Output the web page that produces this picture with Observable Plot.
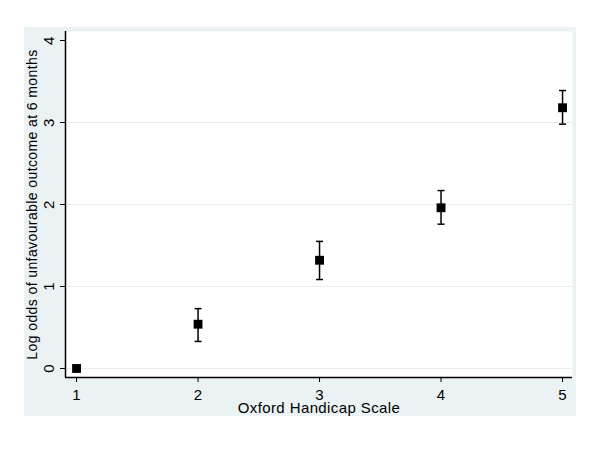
<!DOCTYPE html>
<html>
<head>
<meta charset="utf-8">
<script src="https://cdn.jsdelivr.net/npm/d3@7"></script>
<script src="https://cdn.jsdelivr.net/npm/@observablehq/plot@0.6"></script>
<style>
  html, body { margin: 0; padding: 0; background: #ffffff; }
  #wrap { position: relative; width: 600px; height: 449px; }
  #bg { position: absolute; left: 24px; top: 27px; width: 552px; height: 389px; background: #eaf2f3; }
  #chart { position: absolute; left: 0; top: 0; }
  #chart svg { background: transparent; }
</style>
</head>
<body>
<div id="wrap"><div id="bg"></div><div id="chart"></div></div>
<script>
const scale = [1, 2, 3, 4, 5];
const logOdds = [0, 0.54, 1.32, 1.96, 3.18];
const lower = [null, 0.33, 1.085, 1.76, 2.98];
const upper = [null, 0.73, 1.55, 2.17, 3.39];
const xTicks = [1, 2, 3, 4, 5];
const yTicks = [0, 1, 2, 3, 4];
const gridTicks = [0, 1, 2, 3];

const data = scale.map((s, i) => ({x: s, y: logOdds[i], lo: lower[i], hi: upper[i]}));
const errs = data.filter(d => d.lo != null);
const caps = errs.flatMap(d => [{x: d.x, y: d.lo}, {x: d.x, y: d.hi}]);

const capSymbol = {
  draw(ctx, size) { ctx.moveTo(-3.5, 0); ctx.lineTo(3.5, 0); }
};

const font = "'Liberation Sans', Arial, sans-serif";

const chart = Plot.plot({
  width: 600,
  height: 449,
  marginLeft: 65,
  marginRight: 28,
  marginTop: 31,
  marginBottom: 72,
  style: {fontFamily: font, fontSize: "15px", color: "#000", background: "transparent", letterSpacing: "0.4px"},
  x: {domain: [0.909, 5.082]},
  y: {domain: [-0.11, 4.11]},
  marks: [
    Plot.frame({fill: "white", stroke: null}),
    Plot.ruleY(gridTicks, {stroke: "#e3ecee", strokeWidth: 1.2}),
    Plot.axisX({ticks: xTicks, tickSize: 5, tickPadding: 7, tickFormat: d => d, label: null, fontSize: 15}),
    Plot.axisY({ticks: yTicks, tickSize: 5, tickPadding: 7, tickRotate: -90, tickFormat: d => d, label: null, fontSize: 15}),
    Plot.ruleX([0.909], {stroke: "black", strokeWidth: 1.5}),
    Plot.ruleY([-0.11], {stroke: "black", strokeWidth: 1.5}),
    Plot.text(["Oxford Handicap Scale"], {frameAnchor: "bottom", dy: 35, fontSize: 15, fill: "black"}),
    Plot.text(["Log odds of unfavourable outcome at 6 months"], {frameAnchor: "left", textAnchor: "middle", dx: -33, rotate: -90, fontSize: 14, fill: "black"}),
    Plot.ruleX(errs, {x: "x", y1: "lo", y2: "hi", stroke: "black", strokeWidth: 1.5}),
    Plot.dot(caps, {x: "x", y: "y", symbol: capSymbol, stroke: "black", strokeWidth: 1.5, r: 4}),
    Plot.dot(data, {x: "x", y: "y", symbol: "square", fill: "black", r: 5})
  ]
});
document.getElementById("chart").appendChild(chart);
</script>
</body>
</html>
